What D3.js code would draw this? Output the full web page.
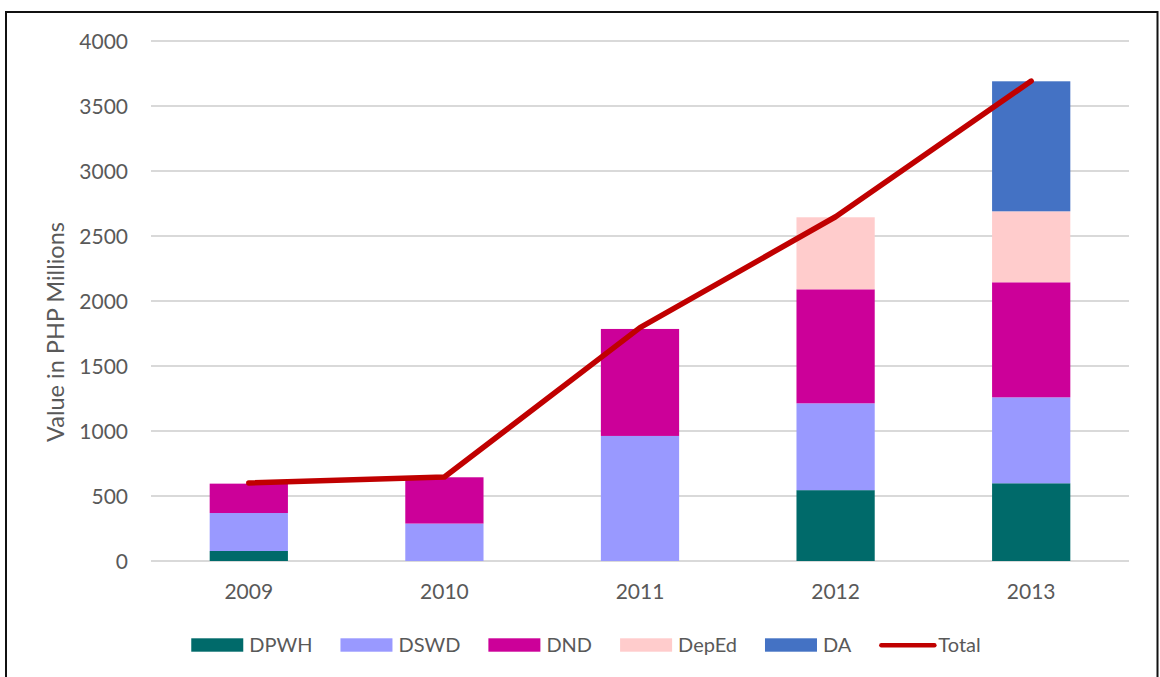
<!DOCTYPE html>
<html>
<head>
<meta charset="utf-8">
<script src="https://cdn.jsdelivr.net/npm/d3@7/dist/d3.min.js"></script>
<style>
  html, body { margin: 0; padding: 0; background: #fff; }
  svg { display: block; }
  text { font-family: Lato, "Open Sans", sans-serif; fill: #595959; }
</style>
</head>
<body>
<svg id="chart" width="1160" height="677"></svg>
<script>
// ---- data ----
const years = ["2009", "2010", "2011", "2012", "2013"];
const seriesNames = ["DPWH", "DSWD", "DND", "DepEd", "DA"];
const DPWH  = [77, 0, 0, 545, 598];
const DSWD  = [292, 288, 962, 668, 661];
const DND   = [226, 356, 823, 877, 885];
const DepEd = [0, 0, 0, 554, 546];
const DA    = [0, 0, 0, 0, 1000];
const Total = [600, 646, 1795, 2648, 3692];
const yTicks = [0, 500, 1000, 1500, 2000, 2500, 3000, 3500, 4000];
const colors = ["#006A6A", "#9999FF", "#CC0099", "#FFCCCC", "#4472C4"];
const totalColor = "#C00000";

const svg = d3.select("#chart");
const x = d3.scaleBand().domain(years).range([151, 1129]).paddingInner(0.6).paddingOuter(0.3);
const y = d3.scaleLinear().domain([0, 4000]).range([561, 41]);

// border
svg.append("rect").attr("x", 6).attr("y", 12).attr("width", 1151.5).attr("height", 720)
  .attr("fill", "none").attr("stroke", "#111").attr("stroke-width", 2);

// gridlines
svg.append("g").selectAll("line").data(yTicks).join("line")
  .attr("x1", 151).attr("x2", 1129)
  .attr("y1", d => y(d)).attr("y2", d => y(d))
  .attr("stroke", "#D9D9D9").attr("stroke-width", 2);

// y tick labels
svg.append("g").selectAll("text").data(yTicks).join("text")
  .attr("x", 128).attr("y", d => y(d) + 7.5)
  .attr("text-anchor", "end").attr("font-size", 21)
  .text(d => d);

// y title
svg.append("text")
  .attr("transform", "translate(64,332) rotate(-90)")
  .attr("text-anchor", "middle").attr("font-size", 23.5)
  .text("Value in PHP Millions");

// stacked bars
const table = years.map((yr, i) => ({ year: yr, DPWH: DPWH[i], DSWD: DSWD[i], DND: DND[i], DepEd: DepEd[i], DA: DA[i] }));
const stacked = d3.stack().keys(seriesNames)(table);
svg.append("g").selectAll("g").data(stacked).join("g")
  .attr("fill", (d, i) => colors[i])
  .selectAll("rect").data(d => d).join("rect")
  .attr("x", d => x(d.data.year))
  .attr("width", x.bandwidth())
  .attr("y", d => y(d[1]))
  .attr("height", d => y(d[0]) - y(d[1]));

// x labels
svg.append("g").selectAll("text").data(years).join("text")
  .attr("x", d => x(d) + x.bandwidth() / 2).attr("y", 598.5)
  .attr("text-anchor", "middle").attr("font-size", 21)
  .text(d => d);

// total line
const line = d3.line().x((d, i) => x(years[i]) + x.bandwidth() / 2).y(d => y(d));
svg.append("path").datum(Total)
  .attr("d", line).attr("fill", "none")
  .attr("stroke", totalColor).attr("stroke-width", 5.5)
  .attr("stroke-linecap", "round").attr("stroke-linejoin", "round");

// legend
const legendItems = seriesNames.map((n, i) => ({ name: n, color: colors[i], type: "rect" }))
  .concat([{ name: "Total", color: totalColor, type: "line" }]);
const lg = svg.append("g");
let cx = 0;
legendItems.forEach((it, i) => {
  const g = lg.append("g").attr("transform", `translate(${cx},0)`);
  let sw;
  if (it.type === "rect") {
    g.append("rect").attr("x", 0).attr("y", 638.3).attr("width", 52).attr("height", 13.4).attr("fill", it.color);
    sw = 58;
  } else {
    g.append("line").attr("x1", 2).attr("x2", 55).attr("y1", 645.3).attr("y2", 645.3)
      .attr("stroke", it.color).attr("stroke-width", 4.5).attr("stroke-linecap", "round");
    sw = 59;
  }
  const t = g.append("text").attr("x", sw).attr("y", 651.7).attr("font-size", 20).text(it.name);
  cx += sw + t.node().getComputedTextLength() + 28;
});
const totalW = cx - 28;
lg.attr("transform", `translate(${586 - totalW / 2},0)`);
</script>
</body>
</html>
